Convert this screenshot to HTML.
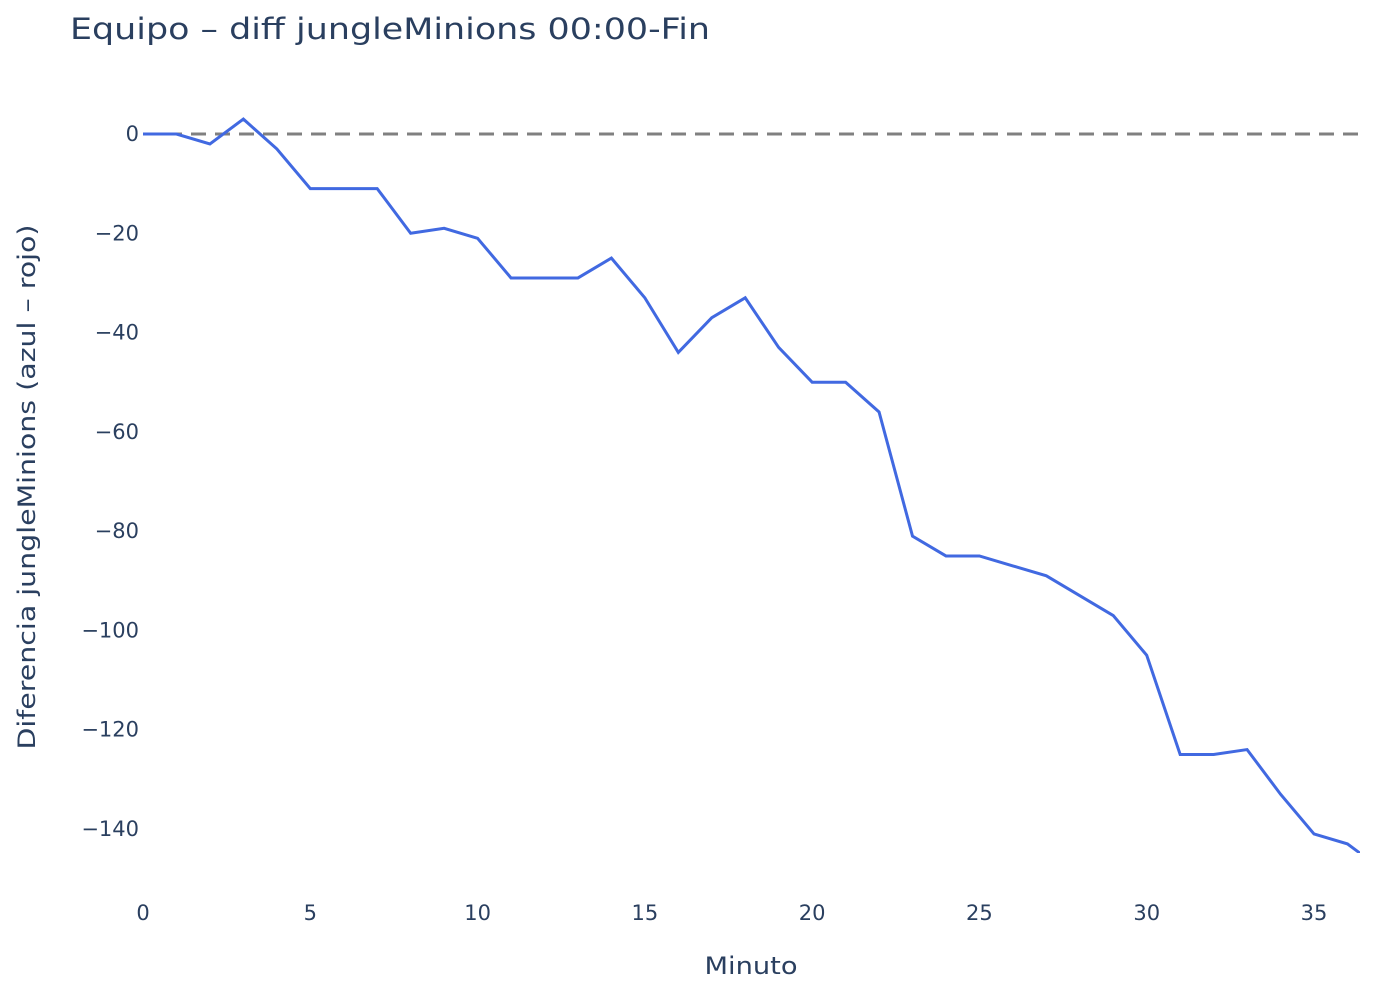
<!DOCTYPE html>
<html><head><meta charset="utf-8"><style>
body{margin:0;background:#fff;font-family:"DejaVu Sans","Liberation Sans",sans-serif}
</style></head><body>
<svg id="chart" width="1400" height="1000" xmlns="http://www.w3.org/2000/svg" font-family="DejaVu Sans, Liberation Sans, sans-serif">
<defs><clipPath id="clip"><rect x="143" y="60" width="1217" height="793"/></clipPath></defs>
<text x="70" y="39" font-size="29" fill="#2a3f5f" textLength="640" lengthAdjust="spacingAndGlyphs">Equipo – diff jungleMinions 00:00-Fin</text>
<g id="yticks"></g>
<g id="xticks"></g>
<line id="zero" stroke="#808080" stroke-width="3" stroke-dasharray="15,9"/>
<path id="line" fill="none" stroke="#4169e1" stroke-width="3" clip-path="url(#clip)"/>
<text x="751" y="974" font-size="24" fill="#2a3f5f" text-anchor="middle" textLength="93" lengthAdjust="spacingAndGlyphs">Minuto</text>
<text transform="translate(35,487) rotate(-90)" font-size="24" fill="#2a3f5f" text-anchor="middle" textLength="525" lengthAdjust="spacingAndGlyphs">Diferencia jungleMinions (azul – rojo)</text>
</svg>
<script>
const minutes=[0,1,2,3,4,5,6,7,8,9,10,11,12,13,14,15,16,17,18,19,20,21,22,23,24,25,26,27,28,29,30,31,32,33,34,35,36,37];
const diffs=[0,0,-2,3,-3,-11,-11,-11,-20,-19,-21,-29,-29,-29,-25,-33,-44,-37,-33,-43,-50,-50,-56,-81,-85,-85,-87,-89,-93,-97,-105,-125,-125,-124,-133,-141,-143,-148];
const xTicks=[0,5,10,15,20,25,30,35];
const yTicks=[0,-20,-40,-60,-80,-100,-120,-140];
const X=v=>143+v*(1314-143)/35;
const Y=v=>134+v*(829-134)/-140;
const NS="http://www.w3.org/2000/svg";
const yg=document.getElementById('yticks'),xg=document.getElementById('xticks');
yTicks.forEach(t=>{const e=document.createElementNS(NS,'text');


e.setAttribute('x',139);e.setAttribute('y',Y(t)+7);e.setAttribute('text-anchor','end');e.setAttribute('font-size','21');e.setAttribute('fill','#2a3f5f');
e.textContent=t<0?'−'+(-t):String(t);yg.appendChild(e);});
xTicks.forEach(t=>{const e=document.createElementNS(NS,'text');


e.setAttribute('x',X(t));e.setAttribute('y',920);e.setAttribute('text-anchor','middle');e.setAttribute('font-size','21');e.setAttribute('fill','#2a3f5f');
e.textContent=t;xg.appendChild(e);});
const z=document.getElementById('zero');
z.setAttribute('x1',143);z.setAttribute('x2',1360);z.setAttribute('y1',Y(0));z.setAttribute('y2',Y(0));
document.getElementById('line').setAttribute('d',minutes.map((m,i)=>(i?'L':'M')+X(m)+','+Y(diffs[i])).join(''));
</script>
</body></html>
